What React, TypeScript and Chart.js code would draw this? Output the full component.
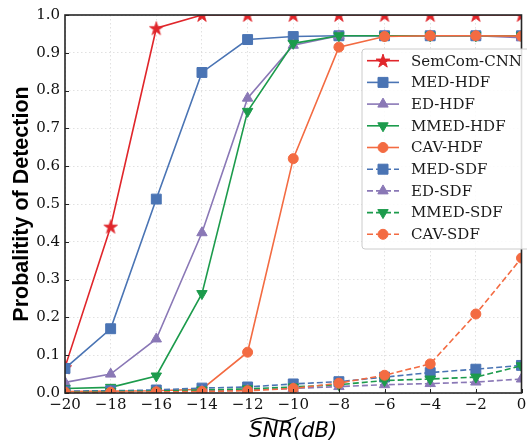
import React, { useEffect, useRef } from 'react';
import { Chart, registerables } from 'chart.js';
Chart.register(...registerables);

const snr = [-20, -18, -16, -14, -12, -10, -8, -6, -4, -2, 0];
const semcomCNN = [0.068, 0.44, 0.965, 1.0, 1.0, 1.0, 1.0, 1.0, 1.0, 1.0, 1.0];
const medHDF = [0.065, 0.17, 0.513, 0.848, 0.935, 0.943, 0.945, 0.945, 0.945, 0.945, 0.945];
const edHDF = [0.028, 0.05, 0.143, 0.424, 0.78, 0.92, 0.945, 0.945, 0.945, 0.945, 0.94];
const mmedHDF = [0.012, 0.015, 0.045, 0.263, 0.745, 0.925, 0.945, 0.945, 0.945, 0.945, 0.945];
const cavHDF = [0.004, 0.005, 0.006, 0.01, 0.108, 0.62, 0.915, 0.943, 0.945, 0.945, 0.944];
const medSDF = [0.005, 0.006, 0.008, 0.013, 0.016, 0.024, 0.03, 0.042, 0.054, 0.063, 0.073];
const edSDF = [0.002, 0.003, 0.004, 0.006, 0.008, 0.012, 0.017, 0.022, 0.025, 0.029, 0.037];
const mmedSDF = [0.003, 0.004, 0.005, 0.008, 0.011, 0.016, 0.022, 0.033, 0.037, 0.042, 0.072];
const cavSDF = [0.002, 0.002, 0.003, 0.004, 0.006, 0.012, 0.026, 0.047, 0.077, 0.209, 0.357];

const yTicks = [0, 0.1, 0.2, 0.3, 0.4, 0.5, 0.6, 0.7, 0.8, 0.9, 1.0];
const xTicks = [-20, -18, -16, -14, -12, -10, -8, -6, -4, -2, 0];
const xTickLabels = ['\u221220', '\u221218', '\u221216', '\u221214', '\u221212', '\u221210', '\u22128', '\u22126', '\u22124', '\u22122', '0'];

const RED = '#e0262b';
const BLUE = '#4a74b4';
const PURPLE = '#8a78b6';
const GREEN = '#1c9b4c';
const ORANGE = '#f36b42';

type Shape = 'star' | 'rect' | 'tri' | 'tridown' | 'circle';

const seriesDefs: { label: string; data: number[]; color: string; shape: Shape; dashed: boolean }[] = [
  { label: 'SemCom-CNN', data: semcomCNN, color: RED, shape: 'star', dashed: false },
  { label: 'MED-HDF', data: medHDF, color: BLUE, shape: 'rect', dashed: false },
  { label: 'ED-HDF', data: edHDF, color: PURPLE, shape: 'tri', dashed: false },
  { label: 'MMED-HDF', data: mmedHDF, color: GREEN, shape: 'tridown', dashed: false },
  { label: 'CAV-HDF', data: cavHDF, color: ORANGE, shape: 'circle', dashed: false },
  { label: 'MED-SDF', data: medSDF, color: BLUE, shape: 'rect', dashed: true },
  { label: 'ED-SDF', data: edSDF, color: PURPLE, shape: 'tri', dashed: true },
  { label: 'MMED-SDF', data: mmedSDF, color: GREEN, shape: 'tridown', dashed: true },
  { label: 'CAV-SDF', data: cavSDF, color: ORANGE, shape: 'circle', dashed: true },
];

const DASH = [6, 3];
const STAR_R = 7.2;

function starPath(ctx: CanvasRenderingContext2D, cx: number, cy: number, R: number) {
  const r = R * 0.382;
  ctx.beginPath();
  for (let i = 0; i < 10; i++) {
    const ang = -Math.PI / 2 + (i * Math.PI) / 5;
    const rr = i % 2 === 0 ? R : r;
    const px = cx + rr * Math.cos(ang);
    const py = cy + rr * Math.sin(ang);
    if (i === 0) ctx.moveTo(px, py);
    else ctx.lineTo(px, py);
  }
  ctx.closePath();
}

function makeStar(color: string) {
  const size = 18;
  const c = document.createElement('canvas');
  c.width = size;
  c.height = size;
  const ctx = c.getContext('2d')!;
  starPath(ctx, size / 2, size / 2 + 0.6, STAR_R);
  ctx.fillStyle = color;
  ctx.fill();
  ctx.strokeStyle = color;
  ctx.lineWidth = 0.8;
  ctx.stroke();
  return c;
}

function drawMarker(ctx: CanvasRenderingContext2D, shape: Shape, x: number, y: number, color: string) {
  ctx.save();
  ctx.fillStyle = color;
  ctx.strokeStyle = color;
  ctx.lineWidth = 1;
  ctx.setLineDash([]);
  if (shape === 'star') {
    starPath(ctx, x, y + 0.6, STAR_R);
  } else if (shape === 'rect') {
    ctx.beginPath();
    ctx.rect(x - 5, y - 5, 10, 10);
  } else if (shape === 'circle') {
    ctx.beginPath();
    ctx.arc(x, y, 5, 0, Math.PI * 2);
  } else {
    const r = 6;
    const sgn = shape === 'tri' ? 1 : -1;
    ctx.beginPath();
    for (let i = 0; i < 3; i++) {
      const a = (i * 2 * Math.PI) / 3;
      const px = x + Math.sin(a) * r;
      const py = y - sgn * Math.cos(a) * r;
      if (i === 0) ctx.moveTo(px, py);
      else ctx.lineTo(px, py);
    }
    ctx.closePath();
  }
  ctx.fill();
  ctx.stroke();
  ctx.restore();
}

const decorPlugin = {
  id: 'decor',
  afterDatasetsDraw(chart: any) {
    const ctx: CanvasRenderingContext2D = chart.ctx;
    const { left, right, top, bottom } = chart.chartArea;
    const xs = chart.scales.x;
    const ys = chart.scales.y;
    ctx.save();
    // inward tick marks
    ctx.strokeStyle = '#222';
    ctx.lineWidth = 1;
    ctx.setLineDash([]);
    for (const v of xTicks) {
      const px = Math.round(xs.getPixelForValue(v)) + 0.5;
      ctx.beginPath();
      ctx.moveTo(px, bottom);
      ctx.lineTo(px, bottom - 4);
      ctx.stroke();
    }
    for (const v of yTicks) {
      const py = Math.round(ys.getPixelForValue(v)) + 0.5;
      ctx.beginPath();
      ctx.moveTo(left, py);
      ctx.lineTo(left + 4, py);
      ctx.stroke();
    }
    // frame
    ctx.strokeStyle = '#262626';
    ctx.lineWidth = 1.6;
    ctx.strokeRect(left, top, right - left, bottom - top);

    // x tick labels
    ctx.fillStyle = '#111';
    ctx.font = '15px "DejaVu Serif"';
    ctx.textAlign = 'center';
    ctx.textBaseline = 'alphabetic';
    xTicks.forEach((v, i) => {
      ctx.fillText(xTickLabels[i], xs.getPixelForValue(v), 408.5);
    });

    // legend
    const bx = 362, by = 49, bw = 175, bh = 200;
    ctx.fillStyle = 'rgba(255,255,255,0.85)';
    ctx.strokeStyle = '#cccccc';
    ctx.lineWidth = 1;
    ctx.beginPath();
    const rr = 3;
    ctx.moveTo(bx + rr, by);
    ctx.lineTo(bx + bw - rr, by);
    ctx.arcTo(bx + bw, by, bx + bw, by + rr, rr);
    ctx.lineTo(bx + bw, by + bh - rr);
    ctx.arcTo(bx + bw, by + bh, bx + bw - rr, by + bh, rr);
    ctx.lineTo(bx + rr, by + bh);
    ctx.arcTo(bx, by + bh, bx, by + bh - rr, rr);
    ctx.lineTo(bx, by + rr);
    ctx.arcTo(bx, by, bx + rr, by, rr);
    ctx.closePath();
    ctx.fill();
    ctx.stroke();

    ctx.font = '15px "DejaVu Serif"';
    ctx.textBaseline = 'middle';
    ctx.textAlign = 'left';
    seriesDefs.forEach((s, i) => {
      const cy = 60.7 + 21.7 * i;
      ctx.strokeStyle = s.color;
      ctx.lineWidth = 1.6;
      ctx.setLineDash(s.dashed ? DASH : []);
      ctx.beginPath();
      ctx.moveTo(367, cy);
      ctx.lineTo(399, cy);
      ctx.stroke();
      ctx.setLineDash([]);
      drawMarker(ctx, s.shape, 383, cy, s.color);
      ctx.fillStyle = '#1a1a1a';
      ctx.fillText(s.label, 411, cy + 1);
    });

    // axis titles
    ctx.fillStyle = '#000';
    ctx.textAlign = 'center';
    ctx.textBaseline = 'alphabetic';
    ctx.font = 'bold 21.5px "Liberation Sans"';
    ctx.save();
    ctx.translate(28, (top + bottom) / 2);
    ctx.rotate(-Math.PI / 2);
    ctx.fillText('Probalitity of Detection', 0, 0);
    ctx.restore();

    const cx = (left + right) / 2;
    ctx.font = 'italic 21px "DejaVu Sans"';
    const full = 'SNR(dB)';
    const wFull = ctx.measureText(full).width;
    const wSNR = ctx.measureText('SNR').width;
    ctx.fillText(full, cx, 437);
    const x0 = cx - wFull / 2 + 1;
    const x1 = x0 + wSNR + 2;
    const ty = 419.5;
    ctx.strokeStyle = '#000';
    ctx.lineWidth = 1.4;
    ctx.beginPath();
    ctx.moveTo(x0, ty + 2);
    ctx.bezierCurveTo(x0 + (x1 - x0) * 0.25, ty - 4, x0 + (x1 - x0) * 0.4, ty - 1, x0 + (x1 - x0) * 0.5, ty);
    ctx.bezierCurveTo(x0 + (x1 - x0) * 0.6, ty + 1, x0 + (x1 - x0) * 0.75, ty + 4, x1, ty - 2);
    ctx.stroke();
    ctx.restore();
  },
};

export default function App() {
  const ref = useRef<HTMLCanvasElement>(null);
  useEffect(() => {
    if (!ref.current) return;
    const star = makeStar(RED);
    const datasets = seriesDefs.map((s, i) => ({
      label: s.label,
      data: snr.map((x, j) => ({ x, y: s.data[j] })),
      borderColor: s.color,
      backgroundColor: s.color,
      borderWidth: 1.6,
      borderDash: s.dashed ? DASH : [],
      pointStyle: s.shape === 'star' ? star : s.shape === 'rect' ? 'rect' : s.shape === 'circle' ? 'circle' : 'triangle',
      pointRotation: s.shape === 'tridown' ? 180 : 0,
      pointRadius: s.shape === 'rect' ? 7 : s.shape === 'circle' ? 5 : 6,
      pointBorderWidth: 1,
      pointBackgroundColor: s.color,
      pointBorderColor: s.color,
      tension: 0,
      fill: false,
      order: -i,
    }));
    const chart = new Chart(ref.current, {
      type: 'line',
      data: { datasets },
      options: {
        animation: false,
        responsive: false,
        events: [],
        layout: { autoPadding: false, padding: { left: 0, right: 5.5, top: 15, bottom: 0 } },
        plugins: { legend: { display: false }, tooltip: { enabled: false } },
        scales: {
          x: {
            type: 'linear',
            min: -20,
            max: 0,
            afterFit: (s: any) => { s.height = 50; },
            afterBuildTicks: (s: any) => { s.ticks = xTicks.map((v) => ({ value: v })); },
            ticks: { display: false, autoSkip: false },
            grid: { color: '#d9d9d9', lineWidth: 0.8, drawTicks: false },
            border: { display: false, dash: [1.5, 2.5] },
          },
          y: {
            type: 'linear',
            min: 0,
            max: 1.0,
            afterFit: (s: any) => { s.width = 65; },
            afterBuildTicks: (s: any) => { s.ticks = yTicks.map((v) => ({ value: v })); },
            ticks: {
              padding: 5,
              color: '#111',
              font: { family: '"DejaVu Serif"', size: 15 },
              callback: (v: any) => Number(v).toFixed(1),
              autoSkip: false,
            },
            grid: { color: '#d9d9d9', lineWidth: 0.8, drawTicks: false },
            border: { display: false, dash: [1.5, 2.5] },
          },
        },
      },
      plugins: [decorPlugin],
    });
    return () => chart.destroy();
  }, []);
  return (
    <div style={{ position: 'fixed', left: 0, top: 0, width: 527, height: 443, background: '#fff' }}>
      <canvas ref={ref} width={527} height={443} style={{ display: 'block', width: 527, height: 443 }} />
    </div>
  );
}
